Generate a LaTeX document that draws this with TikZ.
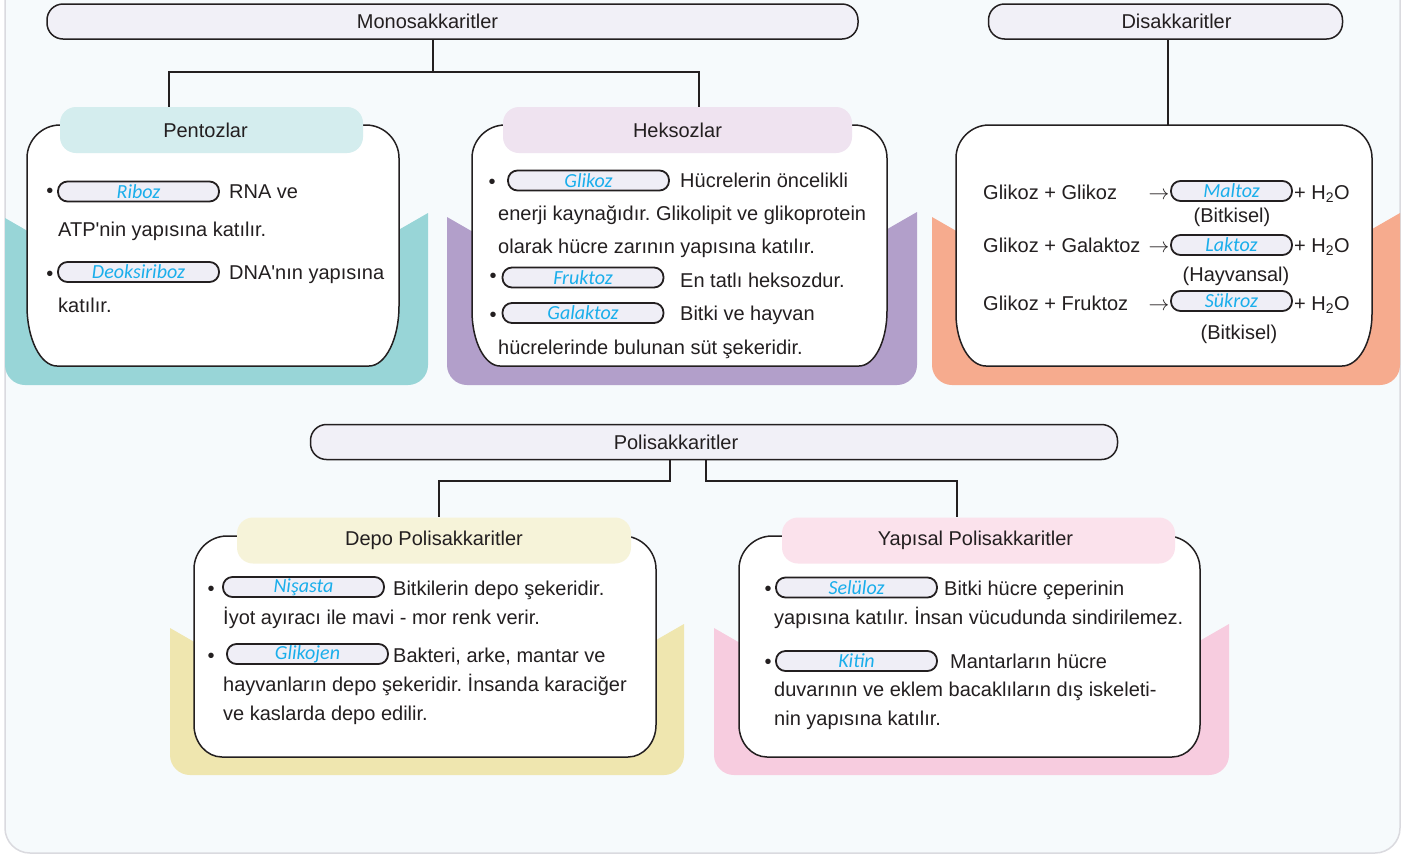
\documentclass[tikz,border=0pt]{standalone}
\usepackage{fontspec}
\setmainfont{Liberation Sans}
\newfontfamily\carl{Carlito}
\definecolor{ink}{HTML}{231F20}
\definecolor{bgc}{HTML}{F6FAFC}
\definecolor{framec}{HTML}{DADADF}
\definecolor{hdrfill}{HTML}{F1F0F7}
\definecolor{pillfill}{HTML}{EFEEF6}
\definecolor{cyanb}{HTML}{1AAEEB}
\definecolor{tealbg}{HTML}{98D5D7}
\definecolor{tealp}{HTML}{D4EDEE}
\definecolor{purpbg}{HTML}{B29FCA}
\definecolor{purpp}{HTML}{EFE3F0}
\definecolor{salbg}{HTML}{F6AB8E}
\definecolor{yelbg}{HTML}{EFE6AF}
\definecolor{yelp}{HTML}{F6F3D9}
\definecolor{pinkbg}{HTML}{F7CCDF}
\definecolor{pinkp}{HTML}{FBE2EC}
\newcommand\whitebox[6]{%
 \draw[wbox] (#1,#2+33) .. controls (#1,#2+15) and (#1+15,#2) .. (#1+33,#2) -- (#3-33,#2)
  .. controls (#3-15,#2) and (#3,#2+15) .. (#3,#2+33) -- (#3,#4-#6)
  .. controls (#3,#4-0.45*#6) and (#3-0.45*#5,#4) .. (#3-#5,#4) -- (#1+#5,#4)
  .. controls (#1+0.45*#5,#4) and (#1,#4-0.45*#6) .. (#1,#4-#6) -- cycle;}
\newcommand\cbg[6]{%
 \fill[#1] (#2,#3) -- (#2+80,#3+46) -- (#4-80,#5+46) -- (#4,#5) -- (#4,#6-20)
  .. controls (#4,#6-9) and (#4-9,#6) .. (#4-20,#6) -- (#2+20,#6)
  .. controls (#2+9,#6) and (#2,#6-9) .. (#2,#6-20) -- cycle;}
\begin{document}
\frenchspacing
\begin{tikzpicture}[x=1pt,y=-1pt,
  every node/.style={inner sep=0pt, text=ink},
  hdr/.style={draw=ink, line width=1.5pt, fill=hdrfill, rounded corners=16pt, minimum height=35pt, font=\fontsize{20}{24}\selectfont},
  sub/.style={rounded corners=16pt, minimum height=46pt, font=\fontsize{20}{24}\selectfont},
  pill/.style={draw=ink, line width=1.8pt, fill=pillfill, rounded corners=9.5pt, minimum width=161pt, minimum height=20pt, font=\carl\itshape\fontsize{20}{20}\selectfont, text=cyanb},
  txt/.style={anchor=base west, font=\fontsize{20}{24}\selectfont},
  ctxt/.style={anchor=base, font=\fontsize{20}{24}\selectfont},
  bul/.style={anchor=base, font=\fontsize{20}{24}\selectfont},
  arr/.style={anchor=base, font=\fontsize{21}{24}\selectfont},
  wbox/.style={draw=ink, line width=1.5pt, fill=white},
  conn/.style={draw=ink, line width=2pt}]
\useasboundingbox (0,0) rectangle (1405,855);
\fill[white] (0,0) rectangle (1405,855);
\draw[draw=framec, line width=1.5pt, fill=bgc, rounded corners=25pt] (5,-5) -- (5,853) -- (1400,853) -- (1400,-5);

% coloured backgrounds
\cbg{tealbg}{5}{218}{428}{213}{385}
\cbg{purpbg}{447}{217}{917}{212}{385}
\cbg{salbg}{932}{217}{1400}{213}{385}
\cbg{yelbg}{170}{628}{684}{624}{775}
\cbg{pinkbg}{714}{628}{1229}{624}{775}

% white boxes
\whitebox{27}{125}{399}{366}{30}{60}
\whitebox{472}{125}{887}{366}{28}{55}
\whitebox{956}{125}{1372}{366}{30}{52}
\whitebox{194}{536}{656}{757}{28}{32}
\whitebox{739}{536}{1200}{757}{28}{32}

% headers
\node[hdr, minimum width=811pt] (mono) at (452.5,21.5) {\hspace*{-50pt}Monosakkaritler};
\node[hdr, minimum width=354pt] (disak) at (1165.5,21.5) {\hspace*{22pt}Disakkaritler};
\node[hdr, minimum width=807pt] (poli) at (714,442) {\hspace*{-76pt}Polisakkaritler};

% connectors
\coordinate (mj) at (433,72);
\coordinate (ml) at (169,72);
\coordinate (mr) at (699,72);
\coordinate (dtop) at (1168,125);
\coordinate (pl1) at (670,481);
\coordinate (pl2) at (439,481);
\coordinate (pr1) at (706,481);
\coordinate (pr2) at (957,481);
\draw[conn] (mono.south -| mj) -- (mj);
\draw[conn] (disak.south -| dtop) -- (dtop);

% sub headers
\node[sub, fill=tealp, minimum width=303pt] (pent) at (211.5,130) {\hspace*{-12pt}Pentozlar};
\node[sub, fill=purpp, minimum width=349pt] (heks) at (677.5,130) {Heksozlar};
\node[sub, fill=yelp, minimum width=394pt] (depo) at (434,540.5) {Depo Polisakkaritler};
\node[sub, fill=pinkp, minimum width=393pt] (yapi) at (978.5,540.5) {\hspace*{-6pt}Yapısal Polisakkaritler};

\draw[conn] (pent.north -| ml) -- (ml) -- (mr) -- (heks.north -| mr);
\draw[conn] (poli.south -| pl1) -- (pl1) -- (pl2) -- (depo.north -| pl2);
\draw[conn] (poli.south -| pr1) -- (pr1) -- (pr2) -- (yapi.north -| pr2);

% Pentozlar
\node[bul] (pb1) at (50,197) {\textbullet};
\node[pill] (pp1) at (138.5,191.5) {Riboz};
\node[txt] (pt1) at (229,198) {RNA ve};
\node[txt] (pt2) at (58,236) {ATP\textquotesingle nin yapısına katılır.};
\node[bul] (pb2) at (50,280) {\textbullet};
\node[pill] (pp2) at (138.5,272) {Deoksiriboz};
\node[txt] (pt3) at (229,279) {DNA\textquotesingle nın yapısına};
\node[txt] (pt4) at (58,312) {katılır.};

% Heksozlar
\node[bul] (hb1) at (492,188) {\textbullet};
\node[pill] (hp1) at (588.5,180.5) {Glikoz};
\node[txt] (ht1) at (680,187) {Hücrelerin öncelikli};
\node[txt] (ht2) at (498,220) {enerji kaynağıdır. Glikolipit ve glikoprotein};
\node[txt] (ht3) at (498,253) {olarak hücre zarının yapısına katılır.};
\node[bul] (hb2) at (493,282) {\textbullet};
\node[pill] (hp2) at (583,277.5) {Fruktoz};
\node[txt] (ht4) at (680,287) {En tatlı heksozdur.};
\node[bul] (hb3) at (493,321) {\textbullet};
\node[pill] (hp3) at (583,313) {Galaktoz};
\node[txt] (ht5) at (680,320) {Bitki ve hayvan};
\node[txt] (ht6) at (498,354) {hücrelerinde bulunan süt şekeridir.};

% Disakkaritler
\node[txt] (dt1) at (983,199) {Glikoz + Glikoz};
\node[arr] (da1) at (1159,199) {$\rightarrow$};
\node[pill, minimum width=121pt] (dp1) at (1231.5,191) {Maltoz};
\node[txt] (dh1) at (1294,199) {+ H\textsubscript{2}O};
\node[ctxt] (dn1) at (1232,222) {(Bitkisel)};
\node[txt] (dt2) at (983,252) {Glikoz + Galaktoz};
\node[arr] (da2) at (1159,252) {$\rightarrow$};
\node[pill, minimum width=121pt] (dp2) at (1231.5,245) {Laktoz};
\node[txt] (dh2) at (1294,252) {+ H\textsubscript{2}O};
\node[ctxt] (dn2) at (1236,281) {(Hayvansal)};
\node[txt] (dt3) at (983,310) {Glikoz + Fruktoz};
\node[arr] (da3) at (1159,310) {$\rightarrow$};
\node[pill, minimum width=121pt] (dp3) at (1231.5,301) {Sükroz};
\node[txt] (dh3) at (1294,310) {+ H\textsubscript{2}O};
\node[ctxt] (dn3) at (1239,339) {(Bitkisel)};

% Depo
\node[bul] (eb1) at (211,595) {\textbullet};
\node[pill] (ep1) at (303.5,587) {Nişasta};
\node[txt] (et1) at (393,595) {Bitkilerin depo şekeridir.};
\node[txt] (et2) at (223,624) {İyot ayıracı ile mavi - mor renk verir.};
\node[bul] (eb2) at (211,662) {\textbullet};
\node[pill] (ep2) at (307.5,654) {Glikojen};
\node[txt] (et3) at (393,662) {Bakteri, arke, mantar ve};
\node[txt] (et4) at (223,691) {hayvanların depo şekeridir. İnsanda karaciğer};
\node[txt] (et5) at (223,720) {ve kaslarda depo edilir.};

% Yapisal
\node[bul] (yb1) at (768,595) {\textbullet};
\node[pill] (yp1) at (856.5,587.5) {Selüloz};
\node[txt] (yt1) at (944,595) {Bitki hücre çeperinin};
\node[txt] (yt2) at (774,624) {yapısına katılır. İnsan vücudunda sindirilemez.};
\node[bul] (yb2) at (768,668) {\textbullet};
\node[pill] (yp2) at (856.5,661) {Kitin};
\node[txt] (yt3) at (950,668) {Mantarların hücre};
\node[txt] (yt4) at (774,696) {duvarının ve eklem bacaklıların dış iskeleti-};
\node[txt] (yt5) at (774,725) {nin yapısına katılır.};
\end{tikzpicture}
\end{document}
